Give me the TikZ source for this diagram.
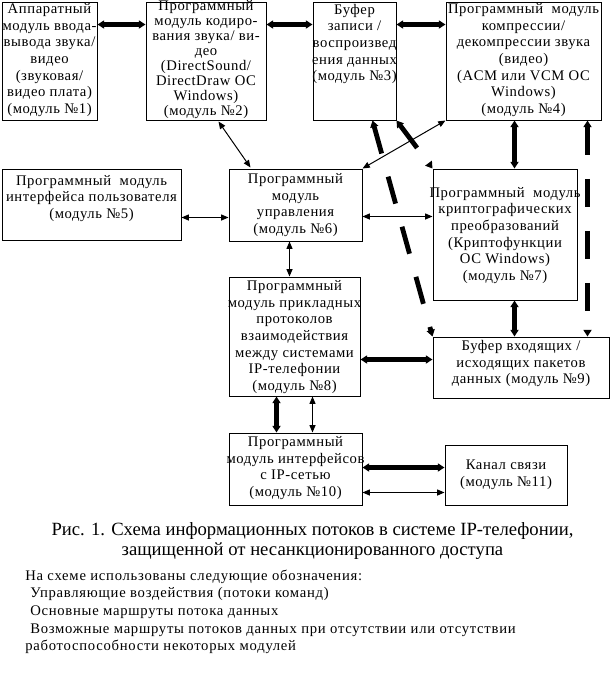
\documentclass[tikz,border=0pt]{standalone}
\usepackage{fontspec}
\setmainfont{Liberation Serif}
\newfontfamily\boxfont[LetterSpace=4]{Liberation Serif}
\newfontfamily\legfont[LetterSpace=5]{Liberation Serif}
\usetikzlibrary{arrows.meta,calc}
\begin{document}
\begin{tikzpicture}[x=0.75pt,y=-0.75pt,
  box/.style 2 args={draw, line width=0.75pt, minimum width=#1*0.75pt, minimum height=#2*0.75pt, inner sep=0pt},
  txt/.style={align=center, inner sep=0pt, font=\boxfont\fontsize{11pt}{12.5pt}\selectfont},
  txtb/.style={align=center, inner sep=0pt, font=\boxfont\fontsize{11pt}{11.3pt}\selectfont},
  dataflow/.style={line width=3.6pt, {Triangle[length=5pt,width=6pt]}-{Triangle[length=5pt,width=6pt]}},
  altflow/.style={dataflow, dash pattern=on 21pt off 18pt},
  ctrl/.style={line width=0.75pt, {Triangle[length=5.5pt,width=4.5pt]}-{Triangle[length=5.5pt,width=4.5pt]}},
  legend/.style={anchor=base west, inner sep=0pt, font=\legfont\fontsize{11pt}{13pt}\selectfont},
  caption/.style={anchor=base, inner sep=0pt, font=\fontsize{14pt}{16pt}\selectfont}
]
\useasboundingbox (0,0) rectangle (614,686);
\fill[white] (0,0) rectangle (614,686);

% boxes
\node[box={95}{118}]  (m1)  at (49.5,61) {};
\node[box={120}{118}] (m2)  at (206,61) {};
\node[box={83}{118}]  (m3)  at (354.5,61) {};
\node[box={155}{118}] (m4)  at (523.5,61) {};
\node[box={179}{71}]  (m5)  at (91.5,204.5) {};
\node[box={133}{72}]  (m6)  at (295.5,205) {};
\node[box={144}{131}] (m7)  at (505,234.5) {};
\node[box={131}{119}] (m8)  at (294.5,336.5) {};
\node[box={176}{61}]  (m9)  at (521,367.5) {};
\node[box={133}{72}]  (m10) at (295.5,469) {};
\node[box={122}{60}]  (m11) at (506,475) {};

% texts
\node[txt] (t1) at ($(m1.center)+(0,-1)$) {Аппаратный\\модуль ввода-\\вывода звука/\\видео\\(звуковая/\\видео плата)\\(модуль №1)};
\node[txtb] (t2) at ($(m2.center)+(0,-1.5)$) {Программный\\модуль кодиро-\\вания звука/ ви-\\део\\(DirectSound/\\DirectDraw ОС\\Windows)\\(модуль №2)};
\node[txt] (t3) at ($(m3.center)+(0,-17)$) {Буфер\\записи /\\воспроизвед\\ения данных\\(модуль №3)};
\node[txt] (t4) at ($(m4.center)+(0,-1)$) {Программный\ \ модуль\\компрессии/\\декомпрессии звука\\(видео)\\(ACM или VCM ОС\\Windows)\\(модуль №4)};
\node[txt] (t5) at ($(m5.center)+(0,-6)$) {Программный\ \ модуль\\интерфейса пользователя\\(модуль №5)};
\node[txt] (t6) at ($(m6.center)+(0,0)$) {Программный\\модуль\\управления\\(модуль №6)};
\node[txt] (t7) at ($(m7.center)+(0,1)$) {Программный\ \ модуль\\криптографических\\преобразований\\(Криптофункции\\ОС Windows)\\(модуль №7)};
\node[txt] (t8) at ($(m8.center)+(0,0.5)$) {Программный\\модуль прикладных\\протоколов\\взаимодействия\\между системами\\IP-телефонии\\(модуль №8)};
\node[txt] (t9) at ($(m9.center)+(0,-4)$) {Буфер входящих /\\исходящих пакетов\\данных (модуль №9)};
\node[txt] (t10) at ($(m10.center)+(0,-1)$) {Программный\\модуль интерфейсов\\с IP-сетью\\(модуль №10)};
\node[txt] (t11) at ($(m11.center)+(0,0)$) {Канал связи\\(модуль №11)};

% main data flows
\draw[dataflow] ($(m1.north east)+(0,23)$) -- ($(m2.north west)+(0,23)$);
\draw[dataflow] ($(m2.north east)+(0,23)$) -- ($(m3.north west)+(0,23)$);
\draw[dataflow] ($(m3.north east)+(0,23)$) -- ($(m4.north west)+(0,23)$);
\draw[dataflow] ($(m4.south west)+(69,0)$) -- ($(m7.north west)+(82,0)$);
\draw[dataflow] ($(m7.south west)+(82,0)$) -- ($(m9.north west)+(82,0)$);
\draw[dataflow] ($(m8.north east)+(0,83)$) -- ($(m9.north west)+(0,23)$);
\draw[dataflow] ($(m8.south west)+(48,0)$) -- ($(m10.north west)+(48,0)$);
\draw[dataflow] ($(m10.north east)+(0,35)$) -- ($(m11.north west)+(0,23)$);

% alternative data flows
\draw[altflow] ($(m4.south west)+(142,0)$) -- ($(m9.north west)+(155,0)$);
\draw[altflow] (m3.south east) -- (m7.north west);
\draw[altflow] ($(m3.south west)+(60,0)$) -- (m9.north west);

% control flows
\draw[ctrl] ($(m2.south west)+(73,1)$) -- ($(m6.north west)+(22,-1)$);
\draw[ctrl] (m4.south west) -- (m6.north east);
\draw[ctrl] ($(m5.north east)+(0,49)$) -- ($(m6.north west)+(0,49)$);
\draw[ctrl] ($(m6.north east)+(0,48)$) -- ($(m7.north west)+(0,48)$);
\draw[ctrl] ($(m6.south west)+(61,0)$) -- ($(m8.north west)+(61,0)$);
\draw[ctrl] ($(m8.south west)+(84,0)$) -- ($(m10.north west)+(84,0)$);
\draw[ctrl] ($(m10.north east)+(0,60)$) -- ($(m11.north west)+(0,48)$);

% caption
\node[caption] (c1) at (312.5,535) {Рис. 1. Схема информационных потоков в системе IP-телефонии,};
\node[caption] (c2) at (312.5,555) {защищенной от несанкционированного доступа};

% legend
\node[legend] (l1) at (25,580) {На схеме использованы следующие обозначения:};
\node[legend] (l2) at (30,597) {Управляющие воздействия (потоки команд)};
\node[legend] (l3) at (30,615) {Основные маршруты потока данных};
\node[legend] (l4) at (30,633) {Возможные маршруты потоков данных при отсутствии или отсутствии};
\node[legend] (l5) at (25,650) {работоспособности некоторых модулей};
\end{tikzpicture}
\end{document}
